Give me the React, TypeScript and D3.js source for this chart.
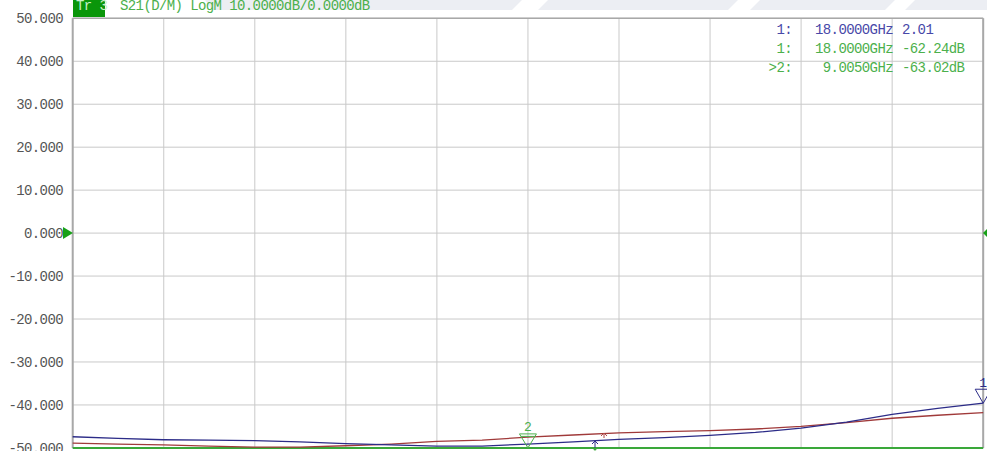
import React from "react";
import * as d3 from "d3";

const freqs = [0.01, 0.9, 1.8, 2.7, 3.6, 4.5, 5.4, 6.3, 7.2, 8.1, 9.0, 9.9, 10.8, 11.7, 12.6, 13.5, 14.4, 15.3, 16.2, 17.1, 18.0];
const blueVals = [-47.4, -47.8, -48.1, -48.2, -48.3, -48.6, -49.0, -49.3, -49.6, -49.6, -49.1, -48.6, -48.0, -47.6, -47.1, -46.4, -45.4, -44.0, -42.2, -40.8, -39.6];
const redVals = [-48.9, -49.1, -49.3, -49.6, -49.8, -49.8, -49.5, -49.1, -48.5, -48.2, -47.5, -47.0, -46.5, -46.2, -46.0, -45.6, -45.0, -44.1, -43.1, -42.4, -41.8];
const greenVals = freqs.map(() => -50);
const yTicks = [50, 40, 30, 20, 10, 0, -10, -20, -30, -40, -50];
const xDivs = [0, 1, 2, 3, 4, 5, 6, 7, 8, 9, 10];
const markerRows = [
  { id: "1:", freq: "18.0000GHz", val: "2.01", color: "#4848a8" },
  { id: "1:", freq: "18.0000GHz", val: "-62.24dB", color: "#4cb04c" },
  { id: ">2:", freq: "9.0050GHz", val: "-63.02dB", color: "#4cb04c" },
];
const headerTrace = "Tr 3";
const headerText = "S21(D/M) LogM 10.0000dB/0.0000dB";

const W = 987, H = 451;
const left = 72.7, right = 983.2, top = 18.3, bottom = 447.9;
const x = d3.scaleLinear().domain([0.01, 18]).range([left, right]);
const y = d3.scaleLinear().domain([-50, 50]).range([bottom, top]);
const font = "'Liberation Mono', monospace";

export default function App() {
  const line = d3.line<number>().x((_, i) => x(freqs[i])).y((d) => y(d));
  const gridX = xDivs.map((i) => left + ((right - left) * i) / 10);
  const m2x = x(9.005);
  const m1x = x(18);
  const m1y = y(blueVals[blueVals.length - 1]);
  const m2y = y(-50);
  return (
    <svg width={W} height={H} style={{ position: "absolute", left: 0, top: 0, background: "#fff" }}>
      {/* watermark band */}
      <polygon points="205,0 987,0 987,10 212,10" fill="#eceef3" />
      <polygon points="522,0 548,0 538,10 512,10" fill="#fff" />
      <polygon points="738,0 760,0 750,10 728,10" fill="#fff" />
      <polygon points="895,0 915,0 905,10 885,10" fill="#fff" />
      {/* grid */}
      {yTicks.map((t) => (
        <line key={"h" + t} x1={left} x2={right} y1={y(t)} y2={y(t)} stroke="#c9c9c9" strokeWidth={1} />
      ))}
      {gridX.map((gx, i) => (
        <line key={"v" + i} x1={gx} x2={gx} y1={top} y2={bottom} stroke="#c9c9c9" strokeWidth={1} />
      ))}
      <line x1={left} x2={left} y1={top} y2={bottom} stroke="#a8a8a8" strokeWidth={2} />
      <line x1={right} x2={right} y1={top} y2={bottom} stroke="#a8a8a8" strokeWidth={2} />
      <line x1={left} x2={right} y1={top} y2={top} stroke="#a8a8a8" strokeWidth={1.5} />
      {/* y labels */}
      {yTicks.map((t) => (
        <text key={"l" + t} x={63} y={y(t) + 5} textAnchor="end" fontFamily={font} fontSize={14} letterSpacing={-0.6} fill="#555">
          {t.toFixed(3)}
        </text>
      ))}
      {/* header */}
      <rect x={73} y={0} width={32} height={17} fill="#0a960a" />
      <text x={76} y={10} fontFamily={font} fontSize={14} fill="#c8f0c8" letterSpacing={-0.6}>{headerTrace}</text>
      <text x={120} y={10} fontFamily={font} fontSize={14} fill="#4cb04c" letterSpacing={-0.6}>{headerText}</text>
      {/* reference markers */}
      <polygon points={`63,${y(0) - 6} 73,${y(0)} 63,${y(0) + 6}`} fill="#18a018" />
      <polygon points={`987,${y(0) - 4} 983,${y(0)} 987,${y(0) + 4}`} fill="#18a018" />
      {/* traces */}
      <path d={line(greenVals) || ""} fill="none" stroke="#3aa83a" strokeWidth={2} />
      <path d={line(redVals) || ""} fill="none" stroke="#a03a3a" strokeWidth={1.3} />
      <path d={line(blueVals) || ""} fill="none" stroke="#2c2c88" strokeWidth={1.3} />
      {/* small inactive marker arrows */}
      <g stroke="#2c2c88" strokeWidth={1} fill="none">
        <line x1={595} x2={595} y1={441} y2={448} />
        <polyline points="592,444 595,441 598,444" />
      </g>
      <g stroke="#b04a4a" strokeWidth={1} fill="none">
        <line x1={604} x2={604} y1={433} y2={438} />
        <polyline points="601,436 604,433 607,436" />
      </g>
      <circle cx={595} cy={449} r={1.5} fill="#3aa83a" />
      {/* marker 2 */}
      <g stroke="#4cb04c" strokeWidth={1} fill="none">
        <polygon points={`${m2x - 8.5},${m2y - 14} ${m2x + 8.5},${m2y - 14} ${m2x},${m2y}`} />
        <line x1={m2x - 7} x2={m2x + 7} y1={m2y - 11.5} y2={m2y - 11.5} />
      </g>
      <text x={m2x} y={m2y - 17} textAnchor="middle" fontFamily={font} fontSize={13} fill="#4cb04c">2</text>
      {/* marker 1 */}
      <polygon points={`${m1x - 8},${m1y - 14} ${m1x + 8},${m1y - 14} ${m1x},${m1y}`} stroke="#2c2c88" strokeWidth={1} fill="none" />
      <text x={m1x} y={m1y - 16} textAnchor="middle" fontFamily={font} fontSize={13} fill="#2c2c88">1</text>
      {/* marker table */}
      {markerRows.map((r, i) => (
        <g key={"m" + i} fontFamily={font} fontSize={14} letterSpacing={-0.6} fill={r.color}>
          <text x={792} y={34 + i * 19} textAnchor="end">{r.id}</text>
          <text x={893} y={34 + i * 19} textAnchor="end">{r.freq}</text>
          <text x={902} y={34 + i * 19}>{r.val}</text>
        </g>
      ))}
    </svg>
  );
}
